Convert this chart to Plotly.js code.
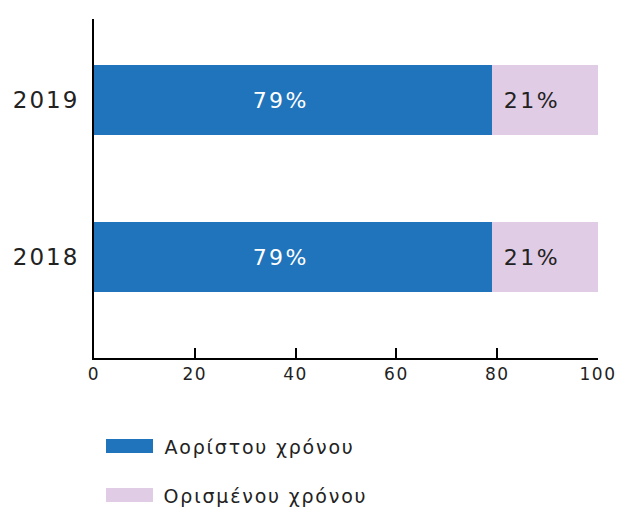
<!DOCTYPE html>
<html>
<head>
<meta charset="utf-8">
<script src="https://cdn.plot.ly/plotly-3.0.1.min.js"></script>
<style>
html,body{margin:0;padding:0;background:#fff;}
#chart{width:617px;height:509px;}
#chart .xtick text{letter-spacing:1.5px;}
#chart .ytick text{letter-spacing:2px;}
#chart text.bartext{letter-spacing:2.5px;}
#chart text.annotation-text{letter-spacing:1.8px;}
</style>
</head>
<body>
<div id="chart"></div>
<script>
const categories = ["2018", "2019"];
const seriesNames = ["Αορίστου χρόνου", "Ορισμένου χρόνου"];
const indefinite = [79, 79];
const fixedTerm = [21, 21];
const xTicks = [0, 20, 40, 60, 80, 100];

const blue = "#1f74bb";
const pink = "#e0cce4";
const font = "'DejaVu Sans', sans-serif";

const traces = [
  {
    type: "bar", orientation: "h", name: seriesNames[0],
    y: categories, x: indefinite,
    marker: {color: blue},
    width: 0.446,
    texttemplate: "%{x}%\u2003",
    textposition: "inside", insidetextanchor: "middle",
    textfont: {color: "#ffffff", size: 22, family: font},
    hoverinfo: "skip", showlegend: false
  },
  {
    type: "bar", orientation: "h", name: seriesNames[1],
    y: categories, x: fixedTerm,
    marker: {color: pink},
    width: 0.446,
    texttemplate: "\u2002%{x}%",
    textposition: "inside", insidetextanchor: "start",
    textfont: {color: "#222222", size: 22, family: font},
    hoverinfo: "skip", showlegend: false
  }
];

const colors = [blue, pink];
const shapes = [];
const annotations = [];
const legendY = [446, 495];
const plotTop = 19, plotH = 339;
seriesNames.forEach((n, i) => {
  const cy = legendY[i];
  const toPaper = py => (plotTop + plotH - py) / plotH;
  shapes.push({type: "rect", xref: "paper", yref: "paper",
    x0: (106 - 94) / 504, x1: (153 - 94) / 504,
    y0: toPaper(cy + 7), y1: toPaper(cy - 7),
    fillcolor: colors[i], line: {width: 0}});
  annotations.push({xref: "paper", yref: "paper", x: (176 - 94) / 504, y: toPaper(cy + 1),
    xanchor: "left", yanchor: "middle", showarrow: false, text: n,
    font: {size: 19, color: "#222222", family: font}});
});

const layout = {
  width: 617, height: 509,
  margin: {l: 94, r: 19, t: 19, b: 151},
  barmode: "stack",
  paper_bgcolor: "#ffffff", plot_bgcolor: "#ffffff",
  showlegend: false,
  xaxis: {
    range: [0, 100], tickvals: xTicks, ticktext: xTicks.map(String),
    showgrid: false, zeroline: false,
    showline: true, linecolor: "#000000", linewidth: 2,
    ticks: "inside", ticklen: 10, tickwidth: 2, tickcolor: "#000000",
    tickfont: {size: 17, color: "#222222", family: font},
    fixedrange: true
  },
  yaxis: {
    type: "category", range: [-0.643, 1.516],
    showgrid: false, zeroline: false,
    showline: true, linecolor: "#000000", linewidth: 2,
    ticks: "", ticklabelstandoff: 8,
    tickfont: {size: 23, color: "#222222", family: font},
    fixedrange: true
  },
  shapes: shapes,
  annotations: annotations
};

Plotly.newPlot("chart", traces, layout, {staticPlot: true});
</script>
</body>
</html>
